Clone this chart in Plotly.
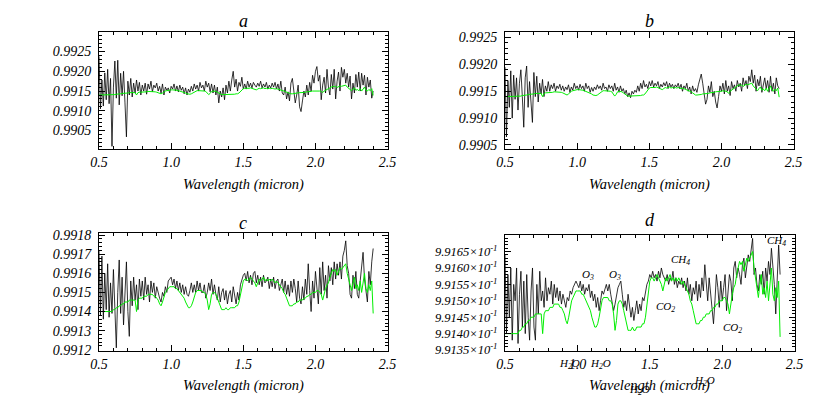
import numpy as np
import plotly.graph_objects as go

# Wavelength grid (micron), 0.50 .. 2.40 step 0.01
wavelength = [round(0.50 + 0.01 * i, 2) for i in range(191)]

# All flux arrays below are given as (flux - 0.99) in units of 1e-5
model_green = [
    140, 140, 140, 140, 140, 140, 140, 140, 140, 140,
    141, 141, 142, 142, 143, 143, 144, 144, 145, 145,
    145, 146, 146, 146, 146, 146, 140, 146, 147, 147,
    147, 148, 148, 148, 149, 149, 149, 149, 148, 148,
    147, 146, 144, 143, 145, 148, 150, 151, 152, 153,
    153, 153, 153, 152, 152, 151, 150, 149, 148, 147,
    145, 143, 142, 142, 143, 145, 148, 150, 151, 151,
    151, 151, 150, 150, 149, 146, 141, 144, 149, 150,
    150, 149, 147, 145, 142, 141, 141, 141, 142, 141,
    141, 142, 142, 142, 142, 143, 143, 145, 149, 153,
    156, 157, 157, 156, 157, 158, 157, 156, 155, 153,
    155, 157, 156, 157, 158, 156, 157, 156, 157, 156,
    157, 156, 155, 156, 155, 154, 153, 152, 150, 149,
    147, 145, 143, 143, 143, 144, 144, 145, 145, 146,
    146, 146, 147, 147, 148, 148, 149, 149, 150, 150,
    150, 151, 151, 150, 149, 146, 150, 152, 154, 155,
    158, 160, 162, 161, 162, 159, 161, 163, 162, 163,
    164, 165, 160, 157, 153, 151, 155, 158, 152, 154,
    151, 156, 150, 155, 160, 152, 150, 154, 151, 156,
    139,
]

black_a = [
    238, 105, 178, 112, 196, 128, 205, 118, 182, 10,
    160, 226, 132, 228, 115, 195, 138, 200, 120, 34,
    175, 140, 182, 135, 170, 145, 178, 150, 172, 140,
    165, 150, 170, 142, 168, 155, 175, 148, 165, 158,
    170, 150, 162, 145, 168, 140, 160, 152, 158, 145,
    162, 155, 168, 150, 163, 148, 165, 152, 160, 143,
    158, 140, 155, 147, 162, 150, 168, 155, 165, 150,
    172, 158, 165, 150, 175, 160, 170, 148, 168, 145,
    165, 140, 160, 120, 150, 135, 158, 128, 165, 145,
    175, 150, 178, 200, 160, 180, 150, 172, 162, 185,
    155, 168, 155, 175, 160, 170, 158, 172, 165, 160,
    170, 162, 175, 158, 168, 160, 172, 155, 165, 158,
    170, 160, 172, 155, 168, 150, 175, 145, 140, 160,
    130, 148, 125, 170, 182, 150, 120, 140, 165, 110,
    98, 125, 150, 135, 165, 140, 172, 150, 190, 170,
    200, 212, 175, 190, 128, 165, 185, 145, 205, 160,
    140, 192, 155, 205, 130, 175, 198, 150, 210, 185,
    205, 170, 195, 160, 188, 130, 170, 145, 192, 160,
    198, 150, 195, 165, 190, 140, 185, 160, 178, 132,
    150,
]

black_b = [
    195, 65, 170, 120, 188, 100, 180, 135, 175, 115,
    165, 190, 140, 83, 175, 197, 120, 168, 130, 92,
    185, 140, 178, 130, 165, 145, 172, 140, 160, 150,
    168, 150, 162, 155, 165, 150, 160, 155, 163, 152,
    160, 150, 158, 153, 162, 148, 158, 152, 165, 155,
    160, 152, 163, 155, 160, 150, 165, 155, 160, 148,
    157, 150, 158, 153, 162, 155, 160, 152, 165, 155,
    158, 150, 162, 155, 160, 150, 165, 152, 158, 148,
    160, 150, 155, 145, 152, 140, 147, 138, 150, 145,
    152, 148, 160, 150, 165, 155, 170, 158, 163, 155,
    168, 160, 170, 158, 165, 160, 168, 155, 163, 158,
    166, 160, 168, 155, 165, 158, 163, 155, 162, 158,
    165, 155, 163, 150, 160, 155, 165, 150, 158, 145,
    160, 150, 155, 148, 162, 172, 182, 165, 140, 126,
    135, 160, 148, 168, 140, 150, 130, 119, 140, 160,
    150, 165, 145, 170, 150, 160, 142, 168, 155, 162,
    150, 170, 158, 165, 150, 175, 160, 170, 155, 178,
    168, 190, 165, 180, 150, 172, 160, 178, 148, 165,
    175, 155, 170, 148, 178, 150, 165, 145, 175, 160,
    155,
]

black_c = [
    172, 138, 169, 136, 160, 141, 165, 137, 155, 139,
    162, 135, 121, 150, 167, 139, 158, 133, 151, 166,
    140, 127, 156, 143, 158, 146, 154, 141, 157, 148,
    156, 146, 158, 149, 154, 145, 156, 150, 155, 147,
    153, 149, 147, 145, 150, 148, 153, 150, 156, 157,
    158, 154, 157, 152, 156, 151, 155, 150, 154, 149,
    153, 149, 148, 151, 155, 150, 154, 150, 156, 151,
    155, 150, 150, 154, 147, 150, 155, 151, 157, 149,
    154, 149, 146, 153, 145, 150, 152, 146, 151, 144,
    149, 151, 145, 153, 147, 144, 150, 146, 154, 157,
    159, 160, 156, 161, 155, 159, 154, 160, 161, 155,
    159, 154, 158, 153, 159, 155, 156, 158, 152, 157,
    153, 158, 152, 156, 157, 151, 155, 157, 150, 156,
    149, 154, 148, 156, 150, 157, 152, 145, 156, 147,
    144, 153, 146, 157, 149, 165, 151, 140, 156, 147,
    161, 154, 144, 163, 149, 166, 151, 159, 147, 164,
    156, 163, 154, 166, 157, 165, 159, 166, 157, 169,
    172, 177, 164, 160, 149, 147, 159, 152, 161, 149,
    147, 156, 163, 171, 157, 149, 145, 161, 154, 166,
    173,
]

black_d = [
    164, 140, 158, 145, 160, 138, 155, 150, 160, 137,
    152, 159, 142, 156, 140, 158, 145, 138, 153, 160,
    142, 138, 155, 146, 159, 150, 153, 148, 157, 150,
    154, 152, 156, 149, 155, 151, 154, 150, 153, 149,
    152, 150, 148, 151, 150, 153, 152, 154, 155, 156,
    155, 154, 156, 153, 155, 152, 154, 153, 155, 151,
    153, 150, 152, 148, 151, 147, 150, 153, 152, 154,
    155, 153, 155, 152, 150, 147, 149, 152, 154, 155,
    156, 152, 148, 150, 147, 152, 149, 145, 148, 144,
    147, 150, 146, 149, 147, 151, 150, 153, 155, 156,
    158, 157, 159, 157, 158, 156, 159, 157, 160, 158,
    157, 156, 158, 155, 157, 156, 159, 155, 157, 154,
    156, 155, 157, 154, 156, 153, 157, 152, 155, 150,
    154, 152, 156, 150, 155, 151, 157, 153, 161, 155,
    150, 157, 152, 146, 143, 150, 158, 154, 148, 156,
    150, 154, 158, 147, 152, 158, 156, 150, 160, 162,
    157, 160, 158, 155, 161, 163, 157, 160, 164, 162,
    166, 169, 158, 160, 155, 153, 158, 155, 159, 152,
    160, 156, 162, 158, 166, 161, 155, 146, 160, 167,
    158,
]

# Axis tick values
x_ticks = [0.5, 1.0, 1.5, 2.0, 2.5]
ab_yticks = [0.9905, 0.9910, 0.9915, 0.9920, 0.9925]
c_yticks = [0.9912, 0.9913, 0.9914, 0.9915, 0.9916, 0.9917, 0.9918]
d_yticks = [0.99135, 0.99140, 0.99145, 0.99150, 0.99155, 0.99160, 0.99165]
d_yticktext = ["9.9135×10<sup>-1</sup>", "9.9140×10<sup>-1</sup>", "9.9145×10<sup>-1</sup>",
               "9.9150×10<sup>-1</sup>", "9.9155×10<sup>-1</sup>", "9.9160×10<sup>-1</sup>",
               "9.9165×10<sup>-1</sup>"]

# Molecule labels on panel d: (text, wavelength, flux)
d_labels = [
    ("O<sub>3</sub>", 1.076, 0.99158),
    ("O<sub>3</sub>", 1.262, 0.99158),
    ("CH<sub>4</sub>", 1.71, 0.991625),
    ("CO<sub>2</sub>", 1.61, 0.99148),
    ("CO<sub>2</sub>", 2.07, 0.991418),
    ("CH<sub>4</sub>", 2.378, 0.991683),
]
# H2O labels below the axis of panel d: (text, wavelength, paper y)
d_low_labels = [
    ("H<sub>2</sub>O", 0.945, 0.109),
    ("H<sub>2</sub>O", 1.16, 0.109),
    ("H<sub>2</sub>O", 1.875, 0.068),
    ("H<sub>2</sub>O", 1.43, 0.045),
]

def to_flux(arr):
    return 0.99 + np.array(arr, dtype=float) * 1e-5

FONT = "'Liberation Serif', 'Times New Roman', serif"
tfont = dict(family=FONT, size=14, color="black", style="italic")
dfont = dict(family=FONT, size=12.5, color="black", style="italic")

W, H = 830, 415
def px_x(a, b):
    return [a / W, b / W]
def px_y(top, bottom):
    return [(H - bottom) / H, (H - top) / H]

fig = go.Figure()
panels = [
    ("x", "y", black_a),
    ("x2", "y2", black_b),
    ("x3", "y3", black_c),
    ("x4", "y4", black_d),
]
for xa, ya, blk in panels:
    fig.add_trace(go.Scatter(x=wavelength, y=to_flux(blk), mode="lines",
                             line=dict(color="black", width=0.8),
                             xaxis=xa, yaxis=ya, showlegend=False))
    fig.add_trace(go.Scatter(x=wavelength, y=to_flux(model_green), mode="lines",
                             line=dict(color="#00ee00", width=1.0),
                             xaxis=xa, yaxis=ya, showlegend=False))

def xaxis(domain, anchor):
    return dict(domain=domain, anchor=anchor, range=[0.5, 2.5], tickvals=x_ticks,
                ticktext=["0.5", "1.0", "1.5", "2.0", "2.5"],
                ticks="inside", ticklen=6, tickcolor="black",
                showline=True, linecolor="black", linewidth=1, mirror="allticks",
                showgrid=False, zeroline=False, tickfont=tfont,
                minor=dict(ticks="inside", dtick=0.1, tick0=0.5, ticklen=3, tickcolor="black"))

def yaxis(domain, anchor, rng, tickvals, ticktext, minor_dtick, tick0, font):
    return dict(domain=domain, anchor=anchor, range=rng, tickvals=tickvals, ticktext=ticktext,
                ticks="inside", ticklen=6, tickcolor="black", ticklabelstandoff=4,
                showline=True, linecolor="black", linewidth=1, mirror="allticks",
                showgrid=False, zeroline=False, tickfont=font,
                minor=dict(ticks="inside", dtick=minor_dtick, tick0=tick0, ticklen=3, tickcolor="black"))

ab_text = [f"{v:.4f}" for v in ab_yticks]
c_text = [f"{v:.4f}" for v in c_yticks]

fig.update_layout(
    width=W, height=H, autosize=False,
    margin=dict(l=0, r=0, t=0, b=0),
    paper_bgcolor="white", plot_bgcolor="white",
    xaxis=xaxis(px_x(92, 387), "y"),
    yaxis=yaxis(px_y(28, 148), "x", [0.99004, 0.99299], ab_yticks, ab_text, 0.0001, 0.9905, tfont),
    xaxis2=xaxis(px_x(507, 802), "y2"),
    yaxis2=yaxis(px_y(28, 148), "x2", [0.99043, 0.99260], ab_yticks, ab_text, 0.0001, 0.9905, tfont),
    xaxis3=xaxis(px_x(92, 387), "y3"),
    yaxis3=yaxis(px_y(235, 356), "x3", [0.991195, 0.99181], c_yticks, c_text, 0.00002, 0.9912, tfont),
    xaxis4=xaxis(px_x(507, 803), "y4"),
    yaxis4=yaxis(px_y(237, 356), "x4", [0.991348, 0.99170], d_yticks, d_yticktext, 0.00001, 0.99135, dfont),
)

ann = []
titles = [("a", 239.5, 16), ("b", 654.5, 16), ("c", 239.5, 225), ("d", 655, 221)]
for t, xp, yp in titles:
    ann.append(dict(text=t, x=xp / W, y=(H - yp) / H, xref="paper", yref="paper",
                    showarrow=False, xanchor="center", yanchor="middle",
                    font=dict(family=FONT, size=18, color="black", style="italic")))
for xp, yp in [(239.5, 185), (654.5, 185), (239.5, 392), (655, 392)]:
    ann.append(dict(text="Wavelength (micron)", x=xp / W, y=(H - yp) / H, xref="paper",
                    yref="paper", showarrow=False, xanchor="center", yanchor="middle",
                    font=dict(family=FONT, size=14.5, color="black", style="italic")))
for t, xv, yv in d_labels:
    ann.append(dict(text=t, x=xv, y=yv, xref="x4", yref="y4", showarrow=False,
                    xanchor="center", yanchor="middle",
                    font=dict(family=FONT, size=11, color="black", style="italic")))
for t, xv, yp in d_low_labels:
    ann.append(dict(text=t, x=xv, y=yp, xref="x4", yref="paper", showarrow=False,
                    xanchor="center", yanchor="middle",
                    font=dict(family=FONT, size=11, color="black", style="italic")))
fig.update_layout(annotations=ann)

# remove the default 8px page margin so the figure sits at the window's top-left corner
fig.write_html("out.html", config={"displayModeBar": False},
               post_script="document.body.style.margin='0px';")
